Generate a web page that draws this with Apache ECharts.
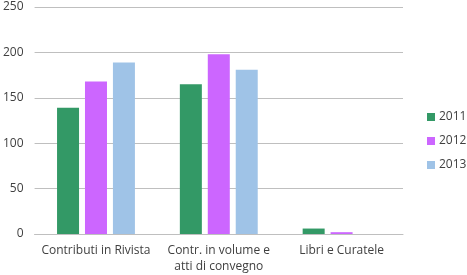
<!DOCTYPE html>
<html><head><meta charset="utf-8">
<script src="https://cdn.jsdelivr.net/npm/echarts@6/dist/echarts.min.js"></script>
<style>html,body{margin:0;padding:0;background:#fff}#c{width:467px;height:275px}</style>
</head><body><div id="c"></div>
<script>
var categories = ['Contributi in Rivista', 'Contr. in volume e\natti di convegno', 'Libri e Curatele'];
var seriesNames = ['2011', '2012', '2013'];
var values2011 = [139, 165, 6];
var values2012 = [168, 198, 2];
var values2013 = [189, 181, 0];
var yTicks = [0, 50, 100, 150, 200, 250];
var colors = ['#339966', '#cc66ff', '#9fc3e7'];

var font = '"Open Sans", "Noto Sans", sans-serif';
var chart = echarts.init(document.getElementById('c'));
var data = [values2011, values2012, values2013];
chart.setOption({
  animation: false,
  grid: {left: 31, right: 64, top: 7, bottom: 41},
  legend: {
    orient: 'vertical', left: 422, top: 106, itemWidth: 8, itemHeight: 8, itemGap: 12,
    icon: 'rect',
    textStyle: {fontFamily: font, fontSize: 12, color: '#404040', padding: [0,0,0,-1]},
    data: seriesNames
  },
  xAxis: {
    type: 'category', data: categories,
    axisTick: {show: false},
    axisLine: {lineStyle: {color: '#bfbfbf', width: 1}},
    axisLabel: {fontFamily: font, fontSize: 12, color: '#404040', margin: 9, lineHeight: 16, interval: 0}
  },
  yAxis: {
    type: 'value', min: yTicks[0], max: yTicks[yTicks.length-1], interval: 50,
    axisLine: {show: false}, axisTick: {show: false},
    splitLine: {lineStyle: {color: '#bfbfbf', width: 1}},
    axisLabel: {fontFamily: font, fontSize: 12, color: '#404040', margin: 11}
  },
  series: seriesNames.map(function (n, i) {
    return {name: n, type: 'bar', data: data[i], barWidth: 22, barGap: '27%',
      itemStyle: {color: colors[i]}};
  })
});
</script></body></html>
